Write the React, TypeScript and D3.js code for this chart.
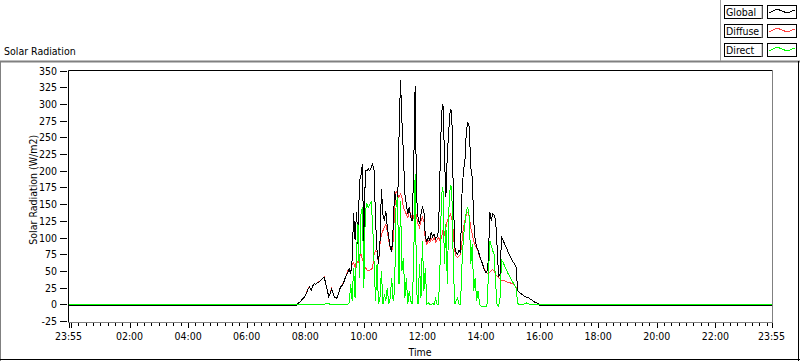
import React from "react";
import * as d3 from "d3";

// samples every 3 min from 07:30, night before/after is flat
const dayStart = 450;
const dayStep = 3;

const globalDay = [
  -2, -2, -2, -2, -2, 1, 3, 5, 8, 10,
  13, 18, 23, 26, 21, 27, 31, 30, 32, 33,
  35, 37, 39, 40, 31, 21, 12, 16, 23, 16,
  11, 9, 11, 18, 26, 28, 31, 38, 43, 48,
  53, 46, 66, 136, 96, 138, 91, 185, 193, 210,
  80, 200, 200, 203, 200, 205, 210, 200, 125, 81,
  61, 91, 173, 135, 125, 140, 115, 100, 86, 78,
  115, 170, 155, 140, 250, 336, 275, 225, 165, 150,
  135, 145, 130, 125, 200, 327, 160, 130, 120, 135,
  145, 140, 100, 94, 101, 96, 108, 101, 105, 98,
  101, 110, 200, 285, 300, 225, 160, 225, 260, 292,
  290, 175, 86, 78, 75, 81, 78, 165, 200, 215,
  260, 272, 265, 205, 190, 125, 96, 86, 81, 73,
  66, 61, 53, 48, 48, 66, 138, 125, 135, 133,
  125, 86, 41, 46, 100, 96, 91, 86, 81, 76,
  71, 67, 63, 60, 55, 21, 18, 16, 15, 13,
  12, 10, 11, 9, 7, 6, 4, 3, 2, 1,
  -2, -2, -2, -2, -2, -2, -2, -2, -2, -2,
  -2,
];

const diffuseDay = [
  -2, -2, -2, -2, -2, 1, 3, 5, 8, 10,
  13, 18, 24, 26, 21, 27, 31, 30, 32, 34,
  35, 37, 39, 41, 31, 21, 12, 16, 24, 16,
  11, 9, 11, 18, 27, 28, 33, 38, 43, 50,
  53, 46, 60, 62, 55, 65, 62, 70, 75, 68,
  60, 55, 52, 50, 51, 52, 55, 75, 80, 78,
  60, 90, 105, 110, 115, 120, 110, 95, 85, 78,
  95, 140, 170, 165, 160, 165, 160, 145, 140, 135,
  130, 140, 135, 125, 130, 145, 130, 120, 115, 125,
  130, 125, 95, 90, 95, 92, 98, 95, 100, 93,
  96, 100, 95, 100, 110, 105, 115, 125, 130, 135,
  130, 110, 80, 72, 70, 72, 75, 95, 115, 125,
  135, 138, 130, 115, 105, 95, 88, 84, 79, 72,
  66, 60, 54, 50, 47, 46, 48, 50, 52, 50,
  45, 42, 40, 38, 36, 36, 35, 34, 33, 33,
  32, 31, 30, 28, 26, 21, 18, 16, 15, 13,
  12, 10, 11, 9, 7, 6, 4, 3, 2, 1,
  -2, -2, -2, -2, -2, -2, -2, -2, -2, -2,
  -2,
];

const directDay = [
  0, 0, 0, 0, 0, 0, 0, 0, 0, 0,
  0, 0, 0, 0, 0, 0, 0, 0, 0, 0,
  0, 0, 0, 0, 1, 2, 1, 0, 0, 0,
  0, 0, 0, 0, 0, 0, 0, 0, 0, 0,
  2, 30, 5, 55, 10, 80, 120, 40, 135, 145,
  25, 140, 150, 145, 150, 153, 120, 60, 5, 60,
  0, 10, 50, 0, 15, 5, 25, 0, 10, 40,
  5, 20, 150, 160, 30, 155, 50, 70, 10, 40,
  0, 20, 5, 0, 60, 195, 20, 0, 60, 10,
  95, 20, 55, 0, 2, 0, 0, 1, 0, 8,
  0, 0, 60, 165, 175, 60, 120, 30, 140, 178,
  175, 70, 0, 5, 10, 0, 0, 60, 100, 120,
  140, 145, 130, 60, 90, 20, 40, 5, 20, 0,
  -3, -3, -3, -3, -3, 40, 95, 88, 80, 75,
  30, -2, -3, 10, 66, 63, 58, 53, 48, 44,
  40, 36, 32, 28, 24, 2, -1, -1, 0, 0,
  1, 2, 1, 0, 0, 0, 0, 0, 0, 0,
  0, 0, 0, 0, 0, 0, 0, 0, 0, 0,
  0,
];

const seriesNames = ["Global", "Diffuse", "Direct"];
const seriesColors = ["#000000", "#ff4040", "#00ff00"];

const yTicks = [-25, 0, 25, 50, 75, 100, 125, 150, 175, 200, 225, 250, 275, 300, 325, 350];
const xLabelMinutes = [-5, 120, 240, 360, 480, 600, 720, 840, 960, 1080, 1200, 1320, 1435];
const xLabels = ["23:55", "02:00", "04:00", "06:00", "08:00", "10:00", "12:00", "14:00", "16:00", "18:00", "20:00", "22:00", "23:55"];

const FONT = "'DejaVu Sans Condensed', 'DejaVu Sans', sans-serif";

function toPoints(arr: number[]) {
  const pts = arr.map((v, i) => ({ t: dayStart + i * dayStep, v }));
  return [{ t: -5, v: arr[0] }, ...pts, { t: 1435, v: arr[arr.length - 1] }];
}

export default function App() {
  const left = 68.5, right = 771.5, top = 70.5, bottom = 321;

  const x = d3.scaleLinear().domain([-5, 1435]).range([left, right]);
  const y = d3.scaleLinear().domain([-25, 350]).range([bottom, top]);

  const line = d3
    .line<{ t: number; v: number }>()
    .x((d) => x(d.t))
    .y((d) => y(d.v));

  const globalPath = line(toPoints(globalDay)) || "";
  const diffusePath = line(toPoints(diffuseDay)) || "";
  const directPath = line(toPoints(directDay)) || "";

  // 15 min minor ticks, 2 h major ticks
  const minorTicks = d3.range(0, 1440, 15).filter((m) => m % 120 !== 0);
  const majorTicks = [-5, ...d3.range(0, 1440, 120), 1435];

  const legendRows = [5, 24, 43];

  return (
    <svg
      width={800}
      height={361}
      style={{ position: "absolute", left: 0, top: 0, background: "#fff" }}
      fontFamily={FONT}
      fontSize={10.5}
    >
      {/* outer frame */}
      <rect x={0} y={0} width={800} height={361} fill="#fff" />
      <line x1={0} x2={800} y1={61.5} y2={61.5} stroke="#808080" strokeWidth={2} />
      <line x1={0.5} x2={0.5} y1={61} y2={361} stroke="#808080" />
      <line x1={0} x2={800} y1={359.5} y2={359.5} stroke="#000" />
      <line x1={798.5} x2={798.5} y1={61} y2={361} stroke="#000" />

      {/* legend */}
      <line x1={720.5} x2={720.5} y1={0} y2={61} stroke="#a0a0a0" />
      {seriesNames.map((name, i) => {
        const ry = legendRows[i];
        return (
          <g key={name}>
            <rect x={724.5} y={ry + 0.5} width={38} height={13} fill="#fff" stroke="#000" />
            <line x1={762} x2={762} y1={ry + 1} y2={ry + 14} stroke="#a0a0a0" />
            <text x={726} y={ry + 11}>{name}</text>
            <rect x={767.5} y={ry + 0.5} width={29} height={13} fill="#fff" stroke="#000" />
            <polyline
              points={`769,${ry + 8} 777,${ry + 4} 787,${ry + 8} 795,${ry + 5}`}
              fill="none"
              stroke={seriesColors[i]}
              shapeRendering="crispEdges"
            />
          </g>
        );
      })}

      <text x={4} y={55}>Solar Radiation</text>

      {/* plot area */}
      <rect x={left} y={top} width={right - left + 1} height={bottom - top + 1.5} fill="#fff" />
      <line x1={left} x2={772.5} y1={top} y2={top} stroke="#000" />
      <line x1={left} x2={left} y1={top} y2={322.5} stroke="#000" />
      <line x1={772.5} x2={772.5} y1={top} y2={322.5} stroke="#808080" />
      <line x1={left} x2={773} y1={322.5} y2={322.5} stroke="#808080" />

      {/* y axis */}
      {yTicks.map((v) => (
        <g key={v}>
          <line x1={60} x2={67} y1={Math.round(y(v)) + 0.5} y2={Math.round(y(v)) + 0.5} stroke="#000" />
          <text x={57} y={Math.round(y(v)) + 4} textAnchor="end">{v}</text>
        </g>
      ))}
      <text
        transform={`translate(37,${(top + bottom) / 2 - 6}) rotate(-90)`}
        textAnchor="middle"
      >
        Solar Radiation (W/m2)
      </text>

      {/* x axis */}
      {minorTicks.map((m) => (
        <line key={"n" + m} x1={Math.round(x(m)) + 0.5} x2={Math.round(x(m)) + 0.5} y1={323} y2={326} stroke="#000" />
      ))}
      {majorTicks.map((m) => (
        <line key={"j" + m} x1={Math.round(x(m)) + 0.5} x2={Math.round(x(m)) + 0.5} y1={323} y2={328} stroke="#000" />
      ))}
      {xLabelMinutes.map((m, i) => (
        <text key={"l" + i} x={x(m)} y={340} textAnchor="middle">{xLabels[i]}</text>
      ))}
      <text x={(left + right) / 2} y={356} textAnchor="middle">Time</text>

      {/* data */}
      <g shapeRendering="crispEdges">
        <path d={diffusePath} fill="none" stroke={seriesColors[1]} strokeWidth={1} />
        <path d={globalPath} fill="none" stroke={seriesColors[0]} strokeWidth={1} />
        <path d={directPath} fill="none" stroke={seriesColors[2]} strokeWidth={1} />
      </g>
    </svg>
  );
}
